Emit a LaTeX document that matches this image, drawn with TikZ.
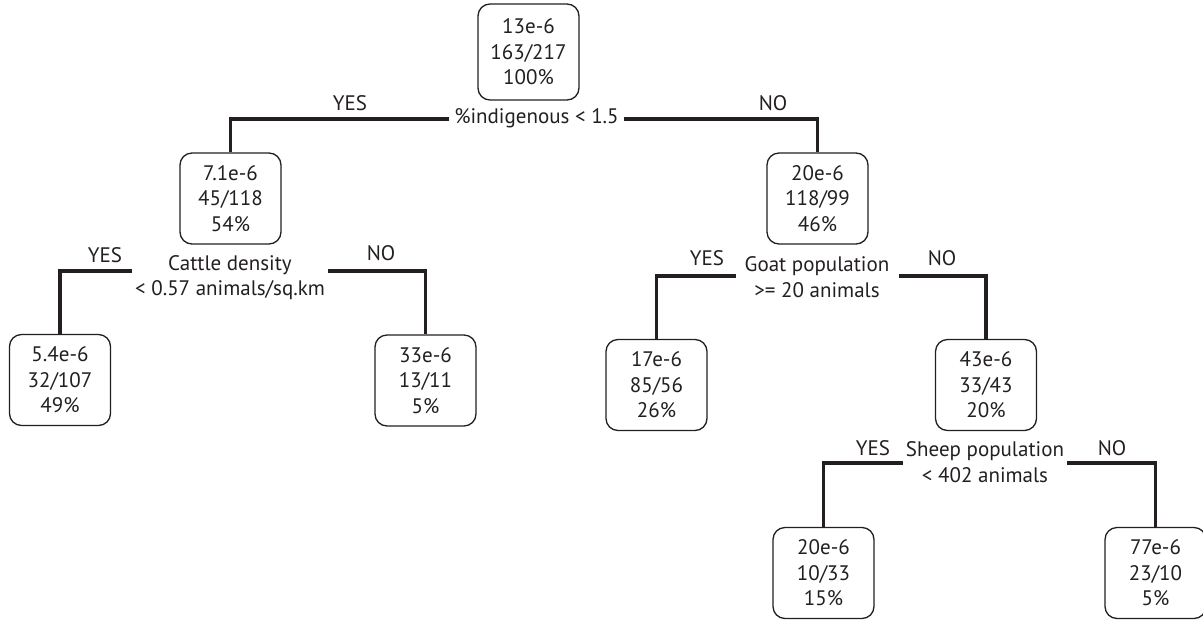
\documentclass[tikz,border=0pt]{standalone}
\usepackage{fontspec}
\setmainfont{PT Sans}
\definecolor{ink}{HTML}{231F20}
\begin{document}
\begin{tikzpicture}[x=1pt,y=-1pt,
  every node/.style={font=\fontsize{21}{25.5}\selectfont, text=ink},
  leaf/.style={draw=ink, line width=1.3pt, rounded corners=12pt,
    minimum width=101pt, minimum height=91pt, align=center, inner sep=0pt},
  test/.style={align=center, inner ysep=0pt, inner xsep=4pt},
  edge/.style={draw=ink, line width=3.2pt},
  ans/.style={inner sep=0pt}]
\useasboundingbox (0,0) rectangle (1203,619);

% tree nodes
\node[leaf, minimum height=96pt] (root) at (528.5,52) {13e-6\\163/217\\100\%};
\node[leaf] (n1) at (230.5,198.5) {7.1e-6\\45/118\\54\%};
\node[leaf] (n2) at (817.5,198.5) {20e-6\\118/99\\46\%};
\node[leaf] (l1) at (60,380) {5.4e-6\\32/107\\49\%};
\node[leaf] (l2) at (425.5,380.5) {33e-6\\13/11\\5\%};
\node[leaf] (l3) at (656.5,385) {17e-6\\85/56\\26\%};
\node[leaf] (n3) at (986,385) {43e-6\\33/43\\20\%};
\node[leaf] (l4) at (823.5,573) {20e-6\\10/33\\15\%};
\node[leaf] (l5) at (1155.5,573) {77e-6\\23/10\\5\%};

% split conditions
\node[test, inner xsep=5pt] (t0) at (536.5,118) {\%indigenous < 1.5};
\node[test, inner xsep=3pt] (t1) at (230,277.5) {Cattle density\\< 0.57 animals/sq.km};
\node[test, inner xsep=9pt] (t2) at (817,277) {Goat population\\>= 20 animals};
\node[test, inner xsep=3pt] (t3) at (985,462) {Sheep population\\< 402 animals};

% branch answers
\node[ans] (y0) at (350,103) {YES};
\node[ans] (o0) at (773,103) {NO};
\node[ans] (y1) at (105,255) {YES};
\node[ans] (o1) at (381,253) {NO};
\node[ans] (y2) at (707,258) {YES};
\node[ans] (o2) at (942,258) {NO};
\node[ans] (y3) at (873,448) {YES};
\node[ans] (o3) at (1112,448) {NO};

% branches
\draw[edge] ([yshift=-1pt]t0.west) -| (n1.north);
\draw[edge] ([yshift=-1pt]t0.east) -| (n2.north);
\draw[edge] ([yshift=6.5pt]t1.west) -| (l1.north);
\draw[edge] ([yshift=6.5pt]t1.east) -| (l2.north);
\draw[edge] ([yshift=1pt]t2.west) -| (l3.north);
\draw[edge] ([yshift=1pt]t2.east) -| (n3.north);
\draw[edge] ([yshift=-1pt]t3.west) -| (l4.north);
\draw[edge] ([yshift=-1pt]t3.east) -| (l5.north);
\end{tikzpicture}
\end{document}
